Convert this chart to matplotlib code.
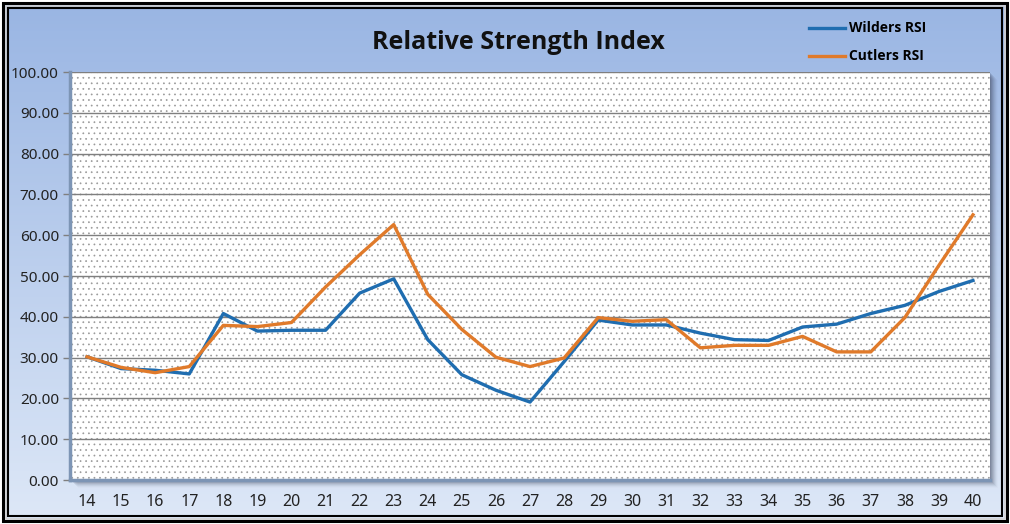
import numpy as np
import matplotlib
matplotlib.use('Agg')
import matplotlib.pyplot as plt
from matplotlib.patches import Rectangle

# 数据
periods = list(range(14, 41))
wilders_rsi = [30.2, 27.3, 26.9, 26.0, 40.8, 36.5, 36.7, 36.7, 45.8, 49.3,
               34.4, 25.8, 22.0, 19.1, 29.0, 39.2, 38.0, 38.0, 36.0, 34.4,
               34.2, 37.5, 38.2, 40.8, 42.8, 46.2, 48.9]
cutlers_rsi = [30.2, 27.6, 26.3, 27.8, 37.9, 37.6, 38.6, 47.3, 55.2, 62.6,
               45.5, 36.9, 30.1, 27.8, 29.9, 39.8, 38.9, 39.3, 32.4, 33.0,
               33.0, 35.2, 31.4, 31.4, 39.8, 52.6, 65.0]
y_ticks = np.arange(0, 101, 10)

W, H = 1010, 524
plt.rcParams['hatch.linewidth'] = 0.5
plt.rcParams['hatch.color'] = '#9a9a9a'

fig = plt.figure(figsize=(W / 100, H / 100), dpi=100)

# 背景渐变 + 双线边框
bg = fig.add_axes([0, 0, 1, 1])
bg.set_xlim(0, W)
bg.set_ylim(H, 0)
bg.axis('off')
top = np.array([0.60, 0.71, 0.89])
bottom = np.array([0.87, 0.91, 0.97])
t = np.linspace(0, 1, 256)[:, None]
grad = (top * (1 - t) + bottom * t)[:, None, :].repeat(2, axis=1)
bg.imshow(grad, extent=[0, W, H, 0], aspect='auto', zorder=0)
bg.add_patch(Rectangle((0, 0), W, H, fill=False, ec='white', lw=3, zorder=1))
bg.add_patch(Rectangle((3, 3), W - 6, H - 6, fill=False, ec='black', lw=2.2, zorder=1))
bg.add_patch(Rectangle((5.5, 5.5), W - 11, H - 11, fill=False, ec='#d0d0d0', lw=1.2, zorder=1))
bg.add_patch(Rectangle((8, 8), W - 16, H - 16, fill=False, ec='black', lw=1.5, zorder=1))

# 绘图区阴影
L, R, T, B = 70, 990, 72, 480
for k, a in zip(range(1, 9), np.linspace(0.35, 0.04, 8)):
    bg.add_patch(Rectangle((L + k, T + k), R - L, B - T, fc='#404860', ec='none',
                           alpha=a * 0.5, zorder=2))

ax = fig.add_axes([L / W, 1 - B / H, (R - L) / W, (B - T) / H])
ax.set_facecolor('white')
ax.patch.set_hatch('...')
ax.patch.set_edgecolor('#9a9a9a')
ax.patch.set_linewidth(0)

ax.plot(periods, wilders_rsi, color='#1f6db0', lw=2.4, label='Wilders RSI',
        solid_joinstyle='round', zorder=4)
ax.plot(periods, cutlers_rsi, color='#e07a2a', lw=2.4, label='Cutlers RSI',
        solid_joinstyle='round', zorder=4)

ax.set_xlim(13.5, 40.5)
ax.set_ylim(0, 100)
ax.set_xticks(periods)
ax.set_yticks(y_ticks)
ax.set_yticklabels(['%.2f' % v for v in y_ticks])
ax.grid(axis='y', color='#7f7f7f', lw=1.0, zorder=1)
ax.set_axisbelow(True)

for s in ['top', 'right']:
    ax.spines[s].set_visible(False)
ax.spines['left'].set_color('#7d95b5')
ax.spines['left'].set_linewidth(2.5)
ax.spines['bottom'].set_color('#7d95b5')
ax.spines['bottom'].set_linewidth(2.5)

ax.tick_params(axis='y', length=5, width=1, color='#7f7f7f', pad=3,
               labelsize=11, labelcolor='#222222')
ax.tick_params(axis='x', length=0, pad=10, labelsize=11.5, labelcolor='#222222')
for lab in ax.get_xticklabels() + ax.get_yticklabels():
    lab.set_family('Noto Sans')

fig.text(518 / W, 1 - 43 / H, 'Relative Strength Index', ha='center', va='center',
         fontsize=18, fontweight='bold', family='Open Sans', color='#111111')

leg = fig.legend(loc='upper left', bbox_to_anchor=(796 / W, 1 - 9 / H),
                 frameon=False, handlelength=2.6, handletextpad=0.3,
                 labelspacing=1.0, prop={'family': 'Open Sans', 'weight': 'bold', 'size': 10})

fig.savefig('out.png', dpi=100)
